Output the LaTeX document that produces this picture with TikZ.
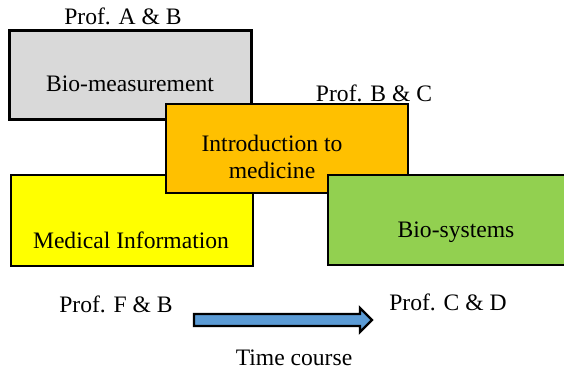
\documentclass[tikz,border=0pt]{standalone}
\usepackage{fontspec}
\setmainfont{Liberation Serif}

\begin{document}
\begin{tikzpicture}
		[x=0.5pt,y=-0.5pt,line join=miter,
		%Styles
		course box/.style={rectangle,draw=black,line width=1.2pt,fill=#1,
			minimum width=121pt,minimum height=44.5pt,inner sep=0pt},
		course text/.style={align=center,inner sep=0pt},
		prof text/.style={inner sep=0pt},
		time arrow/.style={draw=black,line width=1.2pt,fill=arrowblue},
		font=\fontsize{11.8}{13.5}\selectfont
		]
		
		%Colors
		\definecolor{boxgray}{RGB}{217,217,217}
		\definecolor{boxorange}{RGB}{255,192,0}
		\definecolor{boxyellow}{RGB}{255,255,0}
		\definecolor{boxgreen}{RGB}{146,208,80}
		\definecolor{arrowblue}{RGB}{91,155,213}
		
		\path[use as bounding box,clip] (0,0) rectangle (564,372);
		
		%The graphic
		\node[course box=boxgray] (meas) at (130.5,75) {};
		\node[course text] (meastxt) at (130,84) {Bio-measurement};
		\node[course box=boxyellow,minimum height=45.5pt] (info) at (132,220.5) {};
		\node[course text] (infotxt) at (131,240) {Medical Information};
		\node[course box=boxorange] (intro) at (287,148.5) {};
		\node[course text] (introtxt) at (272,157) {Introduction to\\medicine};
		\node[course box=boxgreen,minimum height=45pt,anchor=west,minimum width=140pt] (sys) at (327,220) {};
		\node[course text] (systxt) at (456,232) {Bio-systems};
		
		\node[prof text] (profab) at (123,16) {Prof. A \& B};
		\node[prof text] (profbc) at (374,93) {Prof. B \& C};
		\node[prof text] (proffb) at (116,304) {Prof. F \& B};
		\node[prof text] (profcd) at (448,302) {Prof. C \& D};
		
		%Time arrow
		\draw[time arrow] (194,314) -- (360,314) -- (360,308) -- (372,320)
			-- (360,332) -- (360,326) -- (194,326) -- cycle;
		\node[prof text] (coursetxt) at (294,358) {Time course};
	\end{tikzpicture}
\end{document}
